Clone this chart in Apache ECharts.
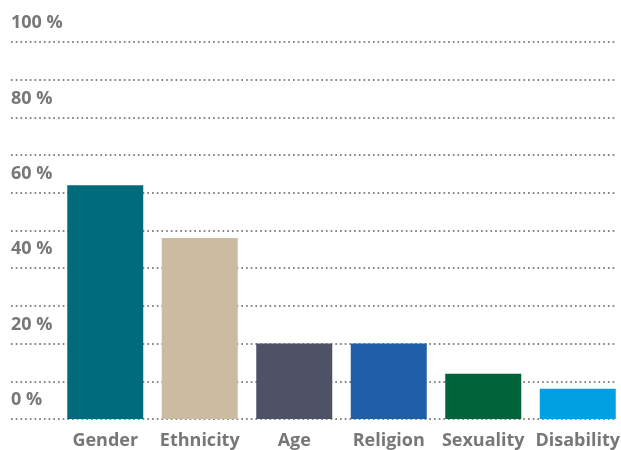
<!DOCTYPE html>
<html><head><meta charset="utf-8">
<script src="https://cdn.jsdelivr.net/npm/echarts@6/dist/echarts.min.js"></script>
<style>html,body{margin:0;padding:0;background:#fff}#c{width:621px;height:450px}</style>
</head><body><div id="c"></div>
<script>
const categories = ['Gender', 'Ethnicity', 'Age', 'Religion', 'Sexuality', 'Disability'];
const values = [62, 48, 20, 20, 12, 8];
const barColors = ['#006B7D', '#CBBBA0', '#4F5266', '#1F5EA8', '#00643A', '#00A0E2'];
const yTicks = [0, 20, 40, 60, 80, 100];

const FONT = 'Open Sans';
const GREY = '#777777';
const chart = echarts.init(document.getElementById('c'), null, {renderer: 'canvas'});
chart.setOption({
  animation: false,
  grid: [
    {left: 58, right: -4, top: 42, bottom: 31, outerBoundsMode: 'none', containLabel: false},
    {left: 11, right: 5, top: 42, bottom: 31, outerBoundsMode: 'none', containLabel: false}
  ],
  xAxis: [
    {type: 'category', gridIndex: 0, data: categories,
     axisLine: {show: false}, axisTick: {show: false},
     axisLabel: {interval: 0, color: GREY, fontFamily: FONT, fontWeight: 'bold', fontSize: 18, margin: 13}},
    {type: 'value', gridIndex: 1, show: false, min: 0, max: 1}
  ],
  yAxis: [
    {type: 'value', gridIndex: 0, min: 0, max: 100, show: false},
    {type: 'value', gridIndex: 1, min: 0, max: 100, interval: 10,
     axisLine: {show: false}, axisTick: {show: false},
     splitLine: {show: true, lineStyle: {color: '#888888', width: 2, type: [1.7, 3]}},
     axisLabel: {inside: true, margin: 0, color: GREY, verticalAlign: 'middle',
       formatter: v => yTicks.indexOf(v) >= 0 ? '{t|' + v + ' %}' : '',
       rich: {t: {color: GREY, fontFamily: FONT, fontWeight: 'bold', fontSize: 18, padding: [0, 0, 38, 0]}}}}
  ],
  series: [{
    type: 'bar', xAxisIndex: 0, yAxisIndex: 0, barWidth: 76,
    data: values.map((v, i) => ({value: v, itemStyle: {color: barColors[i]}}))
  }]
});
</script></body></html>
